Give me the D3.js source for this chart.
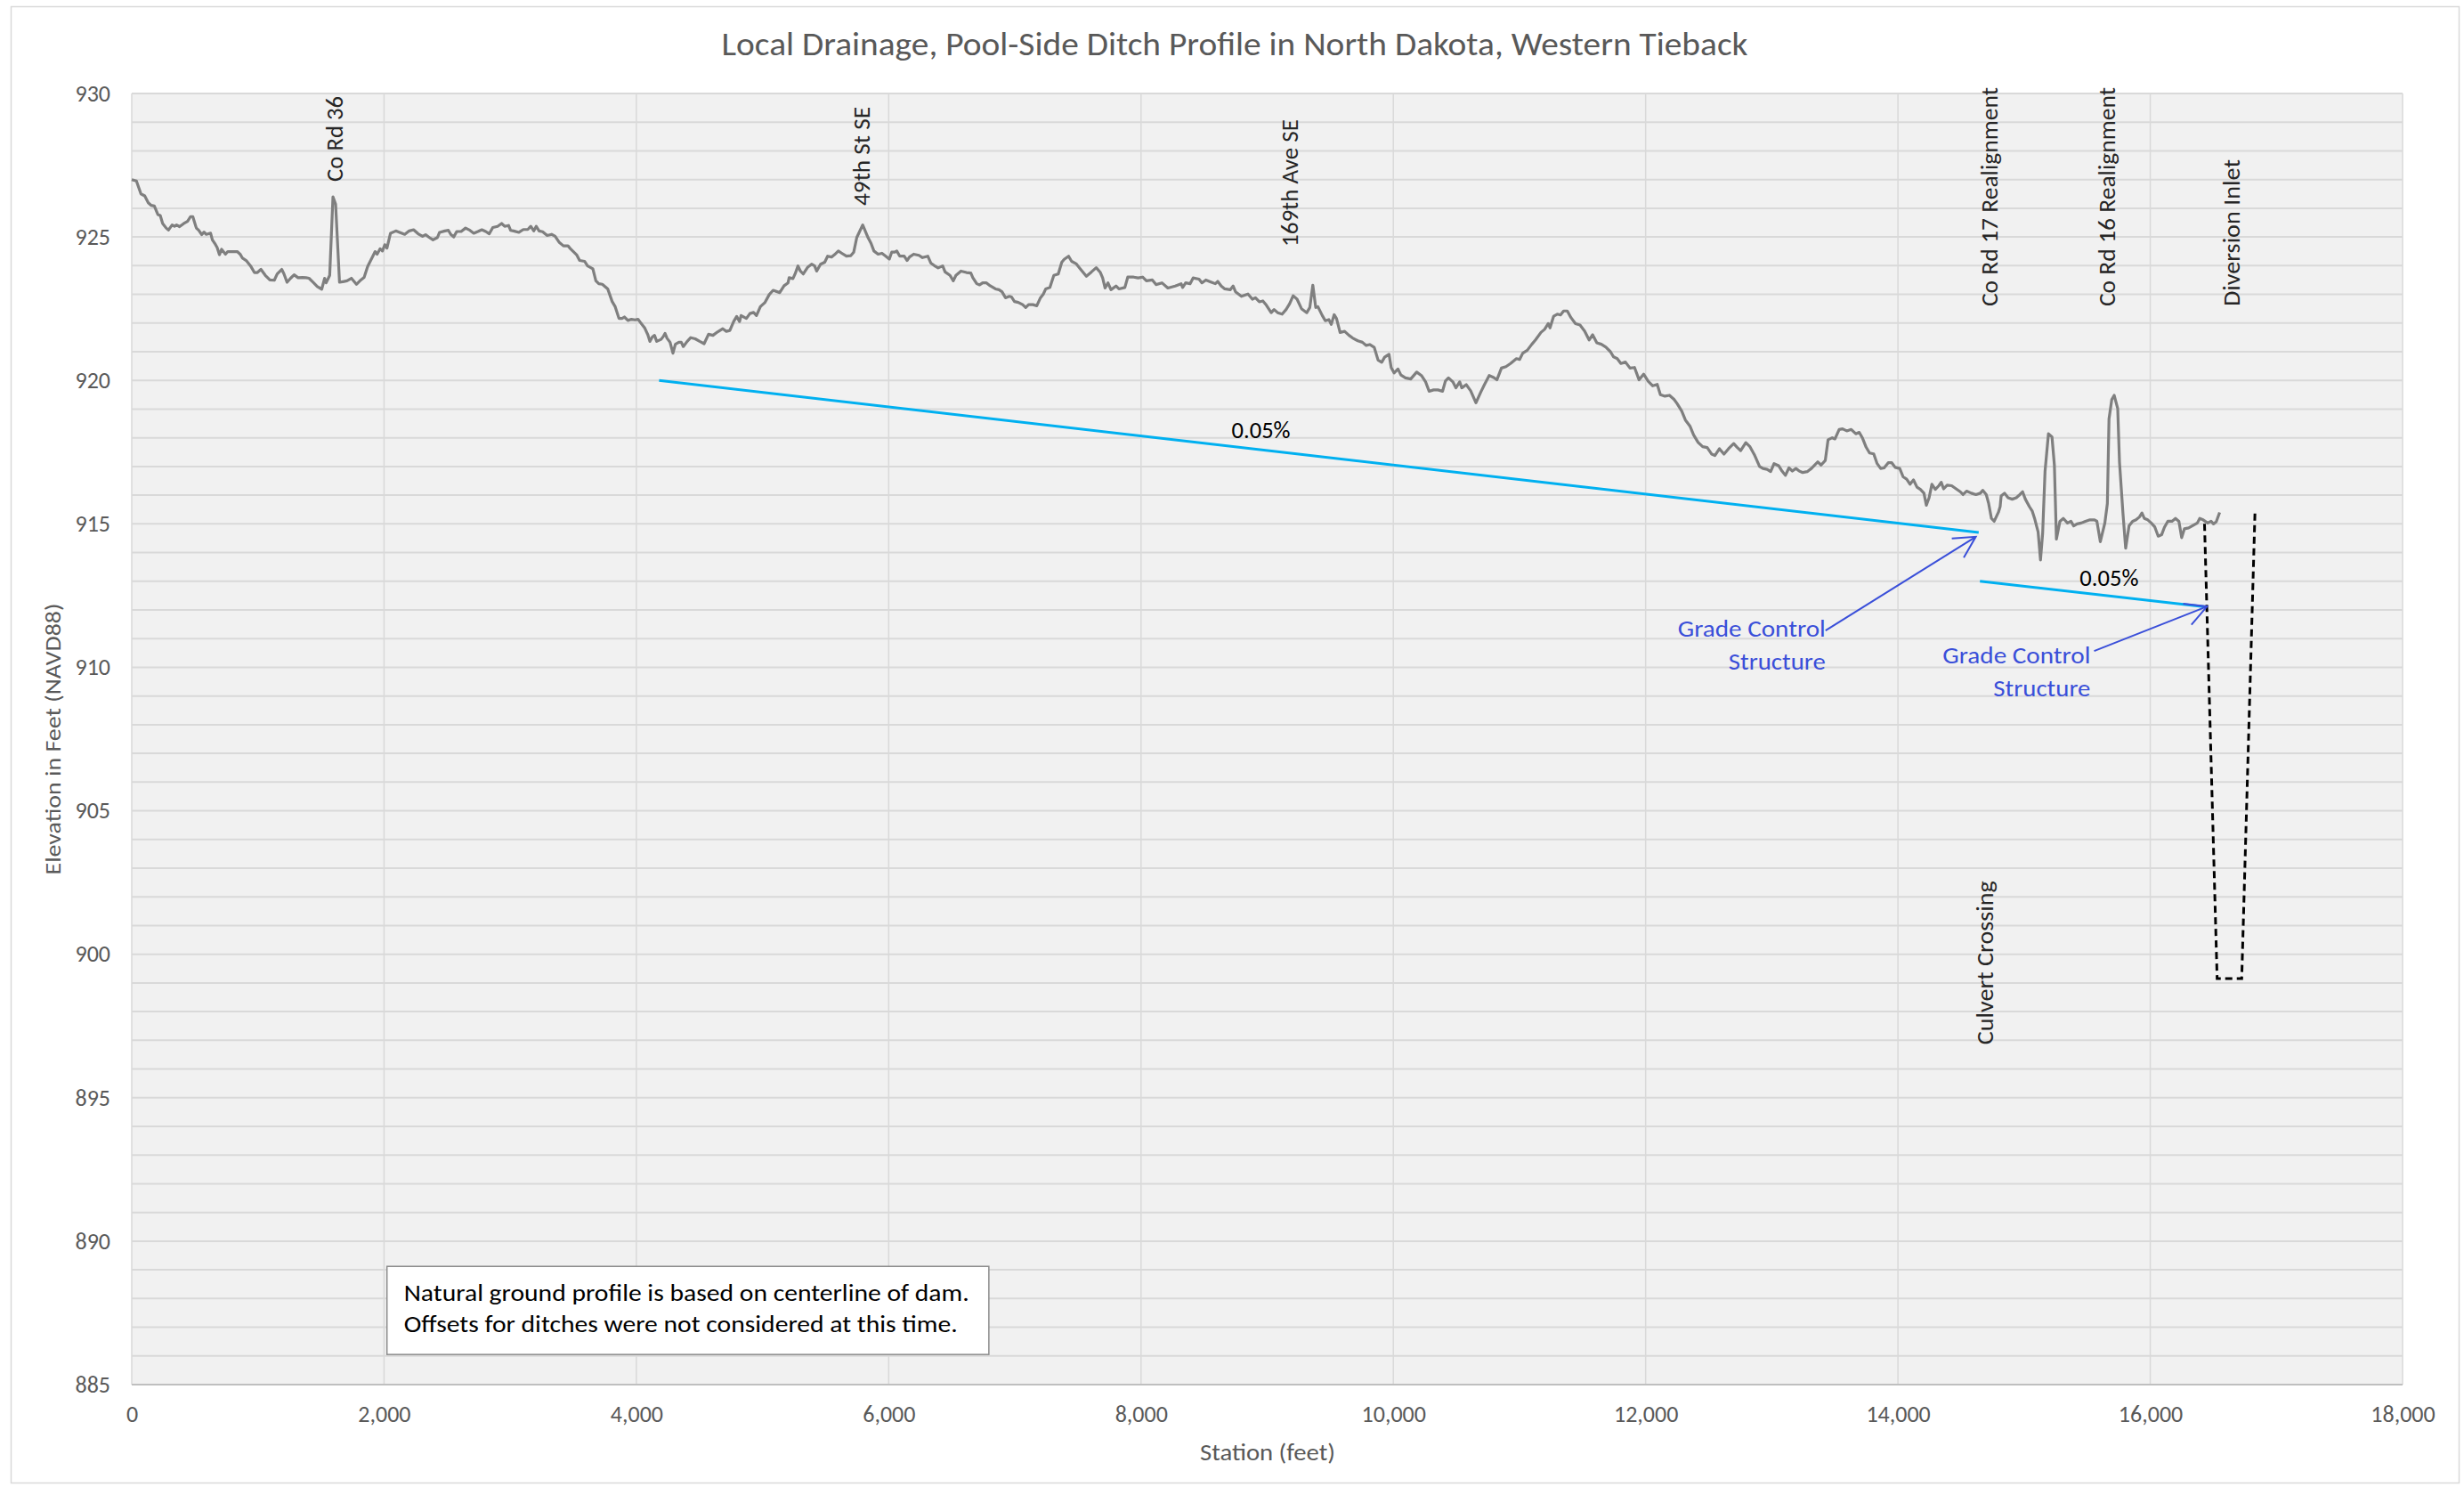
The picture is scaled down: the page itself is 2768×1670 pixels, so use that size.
<!DOCTYPE html>
<html><head><meta charset="utf-8">
<script src="https://cdn.jsdelivr.net/npm/d3@7/dist/d3.min.js"></script>
<style>body{margin:0;background:#fff}</style>
</head><body>
<svg id="c" width="2768" height="1670" xmlns="http://www.w3.org/2000/svg"></svg>
<script>
// ---------- DATA ----------
const chartTitle = "Local Drainage, Pool-Side Ditch Profile in North Dakota, Western Tieback";
const xAxisTitle = "Station (feet)";
const yAxisTitle = "Elevation in Feet (NAVD88)";
const xTicks = [0, 2000, 4000, 6000, 8000, 10000, 12000, 14000, 16000, 18000];
const yTicks = [885, 890, 895, 900, 905, 910, 915, 920, 925, 930];

const profileStation = [0,37,73,103,131,155,179,207,226,245,273,291,320,339,355,379,413,442,466,484,512,531,555,573,590,625,639,663,677,695,712,743,761,801,836,859,878,907,942,972,996,1024,1059,1095,1130,1153,1189,1207,1231,1259,1287,1318,1353,1381,1405,1435,1471,1506,1529,1541,1569,1595,1616,1647,1683,1706,1741,1781,1816,1842,1870,1917,1929,1945,1969,1987,2006,2023,2051,2093,2128,2164,2199,2234,2270,2305,2329,2359,2388,2423,2440,2482,2510,2529,2552,2576,2611,2646,2681,2711,2744,2775,2806,2834,2862,2900,2932,2956,2987,3003,3027,3069,3104,3139,3163,3187,3206,3229,3257,3293,3328,3356,3387,3422,3458,3481,3526,3550,3590,3613,3655,3679,3702,3730,3773,3808,3832,3862,3886,3905,3933,3961,3989,4013,4032,4067,4091,4107,4126,4144,4161,4196,4215,4227,4243,4267,4290,4309,4337,4356,4372,4403,4431,4466,4502,4537,4572,4607,4643,4685,4713,4741,4771,4795,4818,4830,4872,4900,4929,4952,4983,5018,5053,5084,5136,5171,5202,5211,5241,5258,5281,5300,5323,5359,5389,5413,5429,5460,5493,5516,5547,5570,5601,5629,5665,5700,5723,5747,5794,5836,5860,5883,5916,5947,5977,6005,6024,6048,6064,6088,6123,6146,6165,6198,6240,6268,6310,6334,6362,6392,6428,6447,6486,6512,6533,6573,6616,6651,6667,6698,6721,6745,6775,6804,6846,6874,6898,6926,6957,6973,6997,7027,7062,7086,7109,7144,7174,7203,7226,7245,7278,7309,7344,7372,7391,7426,7450,7485,7520,7567,7607,7645,7678,7696,7715,7738,7762,7802,7825,7872,7895,7942,7977,8013,8043,8090,8119,8166,8213,8271,8318,8330,8354,8389,8413,8460,8483,8514,8554,8589,8608,8636,8664,8707,8730,8749,8796,8848,8883,8907,8938,8966,8994,9032,9055,9083,9119,9150,9178,9206,9237,9272,9314,9338,9362,9385,9402,9437,9461,9489,9508,9531,9550,9578,9614,9649,9677,9719,9755,9785,9813,9849,9879,9908,9931,9966,9983,10006,10037,10060,10096,10138,10185,10225,10256,10284,10319,10354,10390,10413,10437,10472,10496,10526,10543,10578,10613,10655,10694,10723,10760,10796,10821,10857,10893,10929,10976,11001,11026,11062,11098,11127,11170,11199,11228,11242,11271,11300,11325,11350,11379,11408,11444,11480,11516,11552,11580,11613,11649,11685,11721,11746,11775,11804,11840,11876,11912,11948,11984,12020,12056,12092,12117,12153,12189,12225,12250,12286,12315,12351,12380,12416,12452,12488,12524,12549,12585,12621,12657,12698,12725,12753,12794,12827,12862,12903,12930,12963,12991,13018,13054,13081,13108,13136,13163,13191,13218,13245,13281,13314,13336,13364,13391,13424,13446,13479,13501,13534,13561,13594,13630,13666,13693,13720,13748,13775,13808,13835,13863,13890,13923,13951,13978,14014,14041,14069,14096,14123,14151,14178,14206,14225,14247,14269,14296,14324,14343,14362,14390,14426,14461,14494,14516,14544,14582,14618,14653,14673,14700,14719,14741,14763,14796,14810,14818,14845,14873,14906,14938,14966,14988,15010,15042,15064,15083,15111,15130,15147,15166,15193,15221,15240,15256,15284,15311,15344,15371,15393,15420,15453,15486,15522,15558,15577,15604,15640,15660,15673,15695,15714,15742,15756,15783,15805,15832,15860,15887,15914,15934,15953,15980,16008,16035,16063,16090,16112,16139,16172,16200,16227,16249,16271,16304,16345,16373,16392,16419,16455,16482,16501,16523,16550];
const profileElev = [927.0,926.95,926.5,926.43,926.19,926.1,926.08,925.78,925.75,925.47,925.31,925.24,925.42,925.37,925.42,925.36,925.47,925.54,925.71,925.71,925.31,925.23,925.08,925.17,925.09,925.13,924.9,924.74,924.63,924.38,924.57,924.4,924.49,924.49,924.49,924.4,924.26,924.18,923.99,923.76,923.76,923.87,923.66,923.5,923.49,923.71,923.87,923.71,923.42,923.56,923.68,923.58,923.59,923.58,923.56,923.43,923.27,923.18,923.56,923.4,923.66,926.4,926.14,923.42,923.45,923.47,923.56,923.35,923.5,923.59,923.97,924.38,924.49,924.4,924.59,924.51,924.73,924.61,925.13,925.21,925.15,925.09,925.21,925.25,925.11,925.02,925.08,924.98,924.9,924.98,925.16,925.21,925.23,925.09,925.0,925.19,925.19,925.31,925.23,925.13,925.19,925.25,925.19,925.11,925.33,925.37,925.47,925.37,925.4,925.23,925.21,925.16,925.26,925.26,925.37,925.21,925.37,925.21,925.18,925.05,925.09,925.02,924.82,924.69,924.69,924.57,924.38,924.18,924.15,923.99,923.89,923.47,923.37,923.35,923.19,922.75,922.57,922.16,922.16,922.21,922.09,922.13,922.11,922.13,922.02,921.82,921.59,921.36,921.51,921.57,921.36,921.43,921.54,921.64,921.47,921.33,920.95,921.26,921.33,921.33,921.18,921.36,921.49,921.45,921.36,921.28,921.61,921.57,921.69,921.8,921.71,921.74,922.05,922.23,922.05,922.26,922.16,922.33,922.37,922.26,922.57,922.71,922.99,923.14,923.06,923.3,923.4,923.58,923.55,923.71,923.99,923.81,923.71,923.95,924.05,923.99,923.81,924.05,924.12,924.33,924.3,924.38,924.51,924.43,924.33,924.35,924.47,924.98,925.42,924.98,924.78,924.51,924.4,924.43,924.33,924.23,924.47,924.47,924.51,924.33,924.33,924.18,924.3,924.4,924.36,924.28,924.33,924.09,924.0,923.92,923.99,923.78,923.66,923.47,923.66,923.81,923.76,923.74,923.58,923.37,923.33,923.4,923.4,923.3,923.19,923.16,923.09,922.88,922.93,922.91,922.75,922.72,922.64,922.54,922.64,922.64,922.6,922.88,923.01,923.19,923.24,923.66,923.71,924.12,924.22,924.33,924.15,924.07,923.88,923.63,923.78,923.93,923.76,923.57,923.22,923.4,923.16,923.29,923.19,923.24,923.6,923.6,923.57,923.6,923.47,923.5,923.34,923.4,923.22,923.29,923.37,923.24,923.4,923.37,923.57,923.53,923.4,923.5,923.43,923.37,923.45,923.29,923.19,923.16,923.29,923.09,922.93,923.01,922.83,922.88,922.74,922.77,922.62,922.36,922.47,922.36,922.31,922.47,922.67,922.95,922.83,922.5,922.36,922.54,923.32,922.54,922.57,922.26,922.08,922.12,921.95,922.29,922.15,921.67,921.71,921.57,921.48,921.38,921.33,921.22,921.25,921.15,920.71,920.63,920.81,920.91,920.45,920.26,920.4,920.19,920.09,920.05,920.29,920.16,919.95,919.62,919.67,919.67,919.62,919.98,920.09,919.95,919.74,919.95,919.74,919.85,919.64,919.22,919.6,919.86,920.17,920.1,920.02,920.43,920.48,920.59,920.76,920.73,920.95,921.05,921.26,921.41,921.67,921.78,921.98,921.83,922.24,922.31,922.28,922.42,922.42,922.19,921.98,921.93,921.72,921.41,921.59,921.31,921.26,921.16,921.0,920.82,920.76,920.59,920.64,920.43,920.45,920.02,920.22,919.97,919.81,919.86,919.5,919.45,919.48,919.34,919.19,918.93,918.62,918.41,918.1,917.84,917.69,917.66,917.43,917.38,917.62,917.43,917.62,917.8,917.67,917.55,917.83,917.69,917.41,917.0,916.93,916.9,916.82,917.1,917.03,916.84,916.69,916.95,916.84,916.93,916.84,916.79,916.82,916.93,917.03,917.16,917.05,917.21,917.93,918.0,917.96,918.29,918.31,918.24,918.29,918.14,918.19,917.98,917.67,917.47,917.44,917.1,916.93,916.95,917.13,917.13,916.97,916.93,916.64,916.56,916.38,916.53,916.28,916.2,916.07,915.65,915.91,916.38,916.2,916.33,916.45,916.22,916.35,916.33,916.22,916.12,916.02,916.14,916.07,916.02,916.07,916.17,916.02,915.71,915.19,915.09,915.4,915.6,915.97,916.07,915.91,915.86,915.91,916.02,916.12,915.86,915.6,915.45,915.19,914.72,913.74,914.67,916.84,918.14,918.03,917.05,914.47,915.09,915.19,915.03,915.09,914.93,915.0,915.03,915.09,915.14,915.14,915.09,914.38,915.03,915.71,918.66,919.33,919.48,919.02,917.16,915.4,914.15,914.93,915.09,915.14,915.24,915.38,915.19,915.14,915.03,914.9,914.57,914.62,914.88,915.09,915.09,915.19,915.09,914.52,914.83,914.86,914.96,915.03,915.19,915.14,915.03,915.09,915.0,915.07,915.4];

// Design grade lines (0.05%)
const grade1Station = [4180, 14640];
const grade1Elev = [920.0, 914.7];
const grade2Station = [14650, 16450];
const grade2Elev = [913.0, 912.1];
const gradeLabel = "0.05%";
const gradeLabelStation = [8951, 15674];
const gradeLabelElev = [918.27, 913.12];

// Diversion inlet channel (dashed)
const inletStation = [16430, 16530, 16725, 16830];
const inletElev = [915.0, 899.15, 899.15, 915.4];

// Road / feature labels (vertical text)
const roadNames = ["Co Rd 36", "49th St SE", "169th Ave SE", "Co Rd 17 Realignment", "Co Rd 16 Realignment", "Diversion Inlet", "Culvert Crossing"];
const roadStation = [1607, 5786, 9183, 14723, 15660, 16647, 14688];
const roadElev = [926.93, 926.09, 924.66, 922.58, 922.58, 922.58, 896.85];
const roadWidths = [96, 111, 143, 246, 246, 165, 184];

// Grade control structure callouts
const gcsLines = ["Grade Control", "Structure"];
const gcsTextStation = [13426, 15526];
const gcsTextElev = [911.35, 910.42];
const gcsArrowFromStation = [13426, 15555];
const gcsArrowFromElev = [911.28, 910.57];
const gcsArrowToStation = [14617, 16450];
const gcsArrowToElev = [914.55, 912.12];

const noteLines = ["Natural ground profile is based on centerline of dam.", "Offsets for ditches were not considered at this time."];

// ---------- DRAW ----------
const FONT = "Carlito, Calibri, Lato, 'Liberation Sans', sans-serif";
const svg = d3.select("#c");
const W = 2768, H = 1670;
const L = 148, R = 2699, T = 105, B = 1555;

svg.append("rect").attr("x", 0).attr("y", 0).attr("width", W).attr("height", H).attr("fill", "#fff");
svg.append("rect").attr("x", 12.5).attr("y", 7.5).attr("width", 2750).attr("height", 1658)
  .attr("fill", "#fff").attr("stroke", "#d9d9d9").attr("stroke-width", 1.5);

const x = d3.scaleLinear().domain([0, 18000]).range([L, R]);
const y = d3.scaleLinear().domain([885, 930]).range([B, T]);

// plot background
svg.append("rect").attr("x", L).attr("y", T).attr("width", R - L).attr("height", B - T).attr("fill", "#f1f1f1");

// horizontal gridlines every foot
svg.append("g").selectAll("line").data(d3.range(885, 931, 1)).join("line")
  .attr("x1", L).attr("x2", R).attr("y1", d => y(d)).attr("y2", d => y(d))
  .attr("stroke", "#d9d9d9").attr("stroke-width", 2);
// vertical gridlines
svg.append("g").selectAll("line").data(xTicks).join("line")
  .attr("x1", d => x(d)).attr("x2", d => x(d)).attr("y1", T).attr("y2", B)
  .attr("stroke", "#d9d9d9").attr("stroke-width", 1.5);
// bottom axis line
svg.append("line").attr("x1", L).attr("x2", R).attr("y1", B).attr("y2", B)
  .attr("stroke", "#bfbfbf").attr("stroke-width", 2);

// axes (labels)
const yAxis = d3.axisLeft(y).tickValues(yTicks).tickSize(0).tickPadding(24).tickFormat(d3.format("d"));
const gy = svg.append("g").attr("transform", `translate(${L},0)`).call(yAxis);
gy.select(".domain").remove();
gy.selectAll("text").attr("font-family", FONT).attr("font-size", 26).attr("fill", "#595959");

const xAxis = d3.axisBottom(x).tickValues(xTicks).tickSize(0).tickPadding(24).tickFormat(d3.format(","));
const gx = svg.append("g").attr("transform", `translate(0,${B})`).call(xAxis);
gx.select(".domain").remove();
gx.selectAll("text").attr("font-family", FONT).attr("font-size", 26).attr("fill", "#595959");

// titles
svg.append("text").attr("x", 1387).attr("y", 62).attr("text-anchor", "middle")
  .attr("font-family", FONT).attr("font-size", 36).attr("font-weight", 300).attr("fill", "#595959")
  .attr("textLength", 1153).attr("lengthAdjust", "spacingAndGlyphs").text(chartTitle);
svg.append("text").attr("x", 1424).attr("y", 1640).attr("text-anchor", "middle")
  .attr("font-family", FONT).attr("font-size", 26).attr("fill", "#595959")
  .attr("textLength", 152).attr("lengthAdjust", "spacingAndGlyphs").text(xAxisTitle);
svg.append("text").attr("transform", `translate(68,${(T + B) / 2}) rotate(-90)`).attr("text-anchor", "middle")
  .attr("font-family", FONT).attr("font-size", 25).attr("fill", "#595959")
  .attr("textLength", 305).attr("lengthAdjust", "spacingAndGlyphs").text(yAxisTitle);

// grade lines
const line = d3.line().x(d => x(d[0])).y(d => y(d[1]));
svg.append("path").datum(d3.zip(grade1Station, grade1Elev)).attr("d", line)
  .attr("fill", "none").attr("stroke", "#00b0f0").attr("stroke-width", 3);
svg.append("path").datum(d3.zip(grade2Station, grade2Elev)).attr("d", line)
  .attr("fill", "none").attr("stroke", "#00b0f0").attr("stroke-width", 3);

// profile
svg.append("path").datum(d3.zip(profileStation, profileElev)).attr("d", line)
  .attr("fill", "none").attr("stroke", "#7f7f7f").attr("stroke-width", 3.2)
  .attr("stroke-linejoin", "round");

// inlet dashed
svg.append("path").datum(d3.zip(inletStation, inletElev)).attr("d", line)
  .attr("fill", "none").attr("stroke", "#000").attr("stroke-width", 3).attr("stroke-dasharray", "8,5");

// grade labels
gradeLabelStation.forEach((s, i) => {
  svg.append("text").attr("x", x(s)).attr("y", y(gradeLabelElev[i])).attr("text-anchor", "middle")
    .attr("dominant-baseline", "central").attr("font-family", FONT).attr("font-size", 26).attr("fill", "#000")
    .attr("textLength", 66).attr("lengthAdjust", "spacingAndGlyphs").text(gradeLabel);
});

// road labels
roadNames.forEach((n, i) => {
  svg.append("text").attr("transform", `translate(${x(roadStation[i])},${y(roadElev[i])}) rotate(-90)`)
    .attr("text-anchor", "start").attr("dominant-baseline", "central")
    .attr("font-family", FONT).attr("font-size", 26).attr("fill", "#262626")
    .attr("textLength", roadWidths[i]).attr("lengthAdjust", "spacingAndGlyphs").text(n);
});

// grade control callouts
const BLUE = "#3a4fd9";
gcsTextStation.forEach((s, i) => {
  const tx = x(s), ty = y(gcsTextElev[i]);
  svg.append("text").attr("x", tx).attr("y", ty).attr("text-anchor", "end").attr("dominant-baseline", "central")
    .attr("font-family", FONT).attr("font-size", 27).attr("fill", BLUE)
    .attr("textLength", 166).attr("lengthAdjust", "spacingAndGlyphs").text(gcsLines[0]);
  svg.append("text").attr("x", tx).attr("y", ty + 37).attr("text-anchor", "end").attr("dominant-baseline", "central")
    .attr("font-family", FONT).attr("font-size", 27).attr("fill", BLUE)
    .attr("textLength", 109).attr("lengthAdjust", "spacingAndGlyphs").text(gcsLines[1]);
  const x1 = x(gcsArrowFromStation[i]), y1 = y(gcsArrowFromElev[i]);
  const x2 = x(gcsArrowToStation[i]), y2 = y(gcsArrowToElev[i]);
  svg.append("line").attr("x1", x1).attr("y1", y1).attr("x2", x2).attr("y2", y2)
    .attr("stroke", BLUE).attr("stroke-width", 2);
  const a = Math.atan2(y2 - y1, x2 - x1), len = 27, half = 28 * Math.PI / 180;
  const p1 = [x2 - len * Math.cos(a - half), y2 - len * Math.sin(a - half)];
  const p2 = [x2 - len * Math.cos(a + half), y2 - len * Math.sin(a + half)];
  svg.append("path").attr("d", `M${p1[0]},${p1[1]}L${x2},${y2}L${p2[0]},${p2[1]}`)
    .attr("fill", "none").attr("stroke", BLUE).attr("stroke-width", 2);
});

// note box
const bx = x(2023), by = y(889.12), bw = x(6794) - x(2023), bh = y(886.05) - y(889.12);
svg.append("rect").attr("x", bx).attr("y", by).attr("width", bw).attr("height", bh)
  .attr("fill", "#fff").attr("stroke", "#8c8c8c").attr("stroke-width", 1.5);
noteLines.forEach((t, i) => {
  svg.append("text").attr("x", bx + 19).attr("y", by + 30 + i * 35).attr("dominant-baseline", "central")
    .attr("font-family", FONT).attr("font-size", 26).attr("fill", "#000")
    .attr("textLength", i === 0 ? 635 : 622).attr("lengthAdjust", "spacingAndGlyphs").text(t);
});
</script>
</body></html>
